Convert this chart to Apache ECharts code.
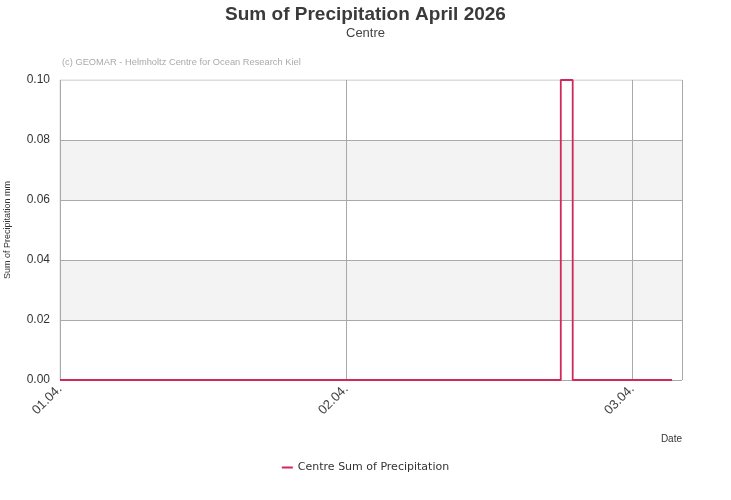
<!DOCTYPE html>
<html>
<head>
<meta charset="utf-8">
<script src="https://cdn.jsdelivr.net/npm/echarts@6/dist/echarts.min.js"></script>
<style>html,body{margin:0;padding:0;background:#fff}#c{width:731px;height:500px}</style>
</head>
<body>
<div id="c"></div>
<script>
var seriesName = 'Centre Sum of Precipitation';
var times = ['2026-04-01 00:00', '2026-04-02 18:00', '2026-04-02 19:00', '2026-04-03 03:20'];
var values = [0, 0.1, 0, 0];
var xMin = '2026-04-01 00:00';
var xMax = '2026-04-03 04:10';

var chart = echarts.init(document.getElementById('c'), null, {renderer: 'canvas'});
var data = times.map(function (t, i) { return [t, values[i]]; });
chart.setOption({
  animation: false,
  backgroundColor: '#fff',
  title: [{
    text: 'Sum of Precipitation April 2026',
    subtext: 'Centre',
    left: 'center', top: 0,
    textStyle: {fontFamily: 'Liberation Sans', fontSize: 19, fontWeight: 'bold', color: '#3a3a3a'},
    subtextStyle: {fontFamily: 'Liberation Sans', fontSize: 13, color: '#444'},
    itemGap: 3
  }, {
    text: '(c) GEOMAR - Helmholtz Centre for Ocean Research Kiel',
    left: 57, top: 53,
    textStyle: {fontFamily: 'Liberation Sans', fontSize: 9.3, fontWeight: 'normal', color: '#aaa'}
  }],
  legend: {
    bottom: 22, left: 'center',
    icon: 'rect', itemWidth: 11, itemHeight: 2, itemGap: 10,
    textStyle: {fontFamily: 'DejaVu Sans', fontSize: 11, color: '#333'},
    data: [seriesName]
  },
  grid: {left: 60, right: 49, top: 80, bottom: 120, show: true, borderColor: '#ddd', borderWidth: 1,
    containLabel: false, outerBoundsMode: 'none'},
  xAxis: {
    type: 'time', min: xMin, max: xMax,
    interval: 86400000, minInterval: 86400000, maxInterval: 86400000,
    name: 'Date', nameLocation: 'end', nameGap: 0,
    nameTextStyle: {fontFamily: 'Liberation Sans', fontSize: 10, color: '#333', align: 'right', verticalAlign: 'top', padding: [54, 0, 0, 0]},
    axisLine: {show: false},
    axisTick: {show: false},
    axisLabel: {
      rotate: 45, fontFamily: 'Liberation Sans', fontSize: 13, color: '#444', margin: 7,
      formatter: function (v) { var d = new Date(v); var dd = ('0' + d.getDate()).slice(-2); var mm = ('0' + (d.getMonth() + 1)).slice(-2); return dd + '.' + mm + '.'; },
      showMinLabel: true, showMaxLabel: false
    },
    splitLine: {show: true, lineStyle: {color: '#a9a9a9', width: 1}}
  },
  yAxis: {
    type: 'value', min: 0, max: 0.1, interval: 0.02,
    name: 'Sum of Precipitation mm', nameLocation: 'middle', nameGap: 48, nameRotate: 90,
    nameTextStyle: {fontFamily: 'Liberation Sans', fontSize: 9, color: '#333'},
    axisLine: {show: false}, axisTick: {show: false},
    axisLabel: {fontFamily: 'Liberation Sans', fontSize: 12, color: '#333', margin: 10,
      formatter: function (v) { return v.toFixed(2); }},
    splitLine: {show: true, lineStyle: {color: ['#a9a9a9', '#a9a9a9', '#a9a9a9', '#a9a9a9', '#a9a9a9', '#ddd'], width: 1}},
    splitArea: {show: true, areaStyle: {color: ['#ffffff', '#f3f3f3']}}
  },
  series: [{
    name: seriesName, type: 'line', step: 'end', data: data,
    showSymbol: false, symbol: 'none',
    lineStyle: {color: '#d0285a', width: 1.8},
    itemStyle: {color: '#d0285a'},
    clip: false
  }]
});
</script>
</body>
</html>
